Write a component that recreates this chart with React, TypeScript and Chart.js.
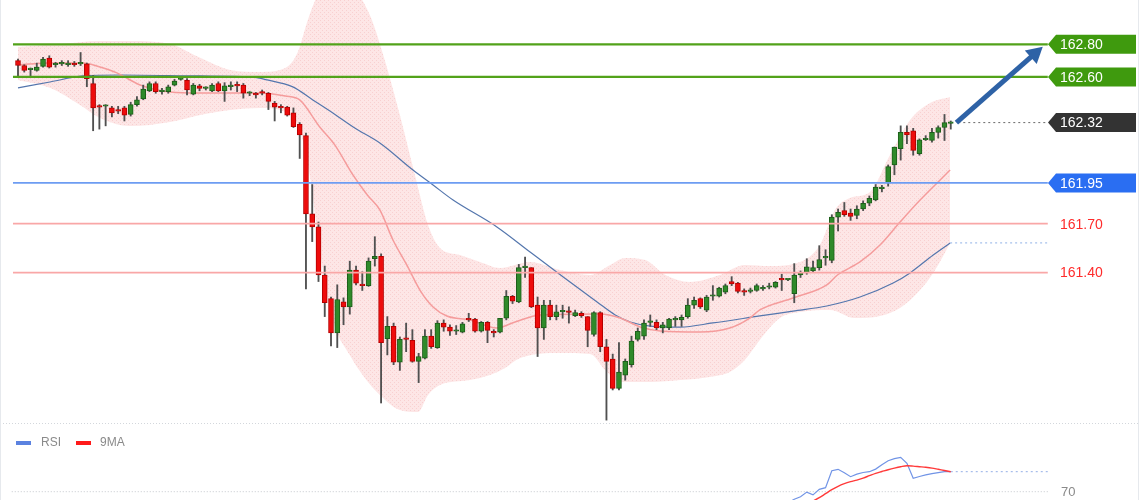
import React, { useEffect, useRef } from "react";
import { Chart, registerables } from "chart.js";

Chart.register(...registerables);

// ---------- Candles (index 0..149) ----------
const OPEN = [
  162.70, 162.67, 162.645, 162.64, 162.665, 162.715, 162.675, 162.68, 162.675, 162.68,
  162.68, 162.68, 162.56, 162.42, 162.42, 162.41, 162.395, 162.41, 162.37, 162.43,
  162.465, 162.515, 162.56, 162.51, 162.51, 162.55, 162.585, 162.58, 162.495, 162.545,
  162.53, 162.515, 162.56, 162.515, 162.54, 162.55, 162.55, 162.50, 162.495, 162.51,
  162.50, 162.44, 162.42, 162.415, 162.38, 162.31, 162.24, 161.76, 161.68, 161.385,
  161.24, 161.03, 161.22, 161.19, 161.415, 161.33, 161.32, 161.485, 161.50, 160.995,
  161.07, 160.85, 161.00, 160.985, 160.855, 160.875, 161.01, 160.94, 161.09, 161.065,
  161.04, 161.035, 161.115, 161.115, 161.04, 161.095, 161.04, 161.035, 161.12, 161.255,
  161.22, 161.43, 161.43, 161.20, 161.06, 161.20, 161.13, 161.16, 161.165, 161.135,
  161.15, 161.13, 161.02, 161.155, 160.945, 160.87, 160.69, 160.77, 160.835, 160.99,
  161.01, 161.095, 161.095, 161.06, 161.06, 161.11, 161.11, 161.13, 161.20, 161.24,
  161.17, 161.255, 161.255, 161.28, 161.345, 161.335, 161.285, 161.285, 161.29, 161.30,
  161.31, 161.31, 161.365, 161.355, 161.27, 161.385, 161.40, 161.41, 161.43, 161.49,
  161.475, 161.74, 161.78, 161.765, 161.75, 161.79, 161.825, 161.845, 161.915, 161.95,
  162.06, 162.16, 162.26, 162.27, 162.13, 162.215, 162.21, 162.26, 162.29, 162.315,
];
const HIGH = [
  162.71, 162.675, 162.655, 162.685, 162.72, 162.73, 162.69, 162.70, 162.70, 162.695,
  162.75, 162.685, 162.61, 162.43, 162.43, 162.42, 162.42, 162.42, 162.445, 162.48,
  162.55, 162.57, 162.57, 162.53, 162.55, 162.585, 162.60, 162.59, 162.56, 162.555,
  162.54, 162.56, 162.57, 162.565, 162.57, 162.57, 162.56, 162.51, 162.505, 162.52,
  162.505, 162.45, 162.43, 162.42, 162.41, 162.32, 162.255, 161.94, 161.71, 161.44,
  161.25, 161.325, 161.245, 161.47, 161.44, 161.405, 161.49, 161.62, 161.515, 161.13,
  161.09, 161.005, 161.09, 161.05, 160.905, 161.05, 161.05, 161.105, 161.11, 161.08,
  161.075, 161.095, 161.15, 161.12, 161.10, 161.10, 161.05, 161.12, 161.29, 161.26,
  161.45, 161.495, 161.43, 161.25, 161.23, 161.23, 161.20, 161.20, 161.19, 161.17,
  161.16, 161.13, 161.16, 161.16, 160.99, 160.90, 160.97, 160.87, 161.01, 161.06,
  161.11, 161.14, 161.11, 161.095, 161.12, 161.13, 161.14, 161.24, 161.25, 161.245,
  161.26, 161.32, 161.31, 161.33, 161.375, 161.34, 161.30, 161.305, 161.33, 161.32,
  161.335, 161.345, 161.39, 161.36, 161.455, 161.41, 161.485, 161.47, 161.565, 161.54,
  161.755, 161.79, 161.83, 161.79, 161.81, 161.84, 161.87, 161.94, 161.935, 162.06,
  162.17, 162.30, 162.30, 162.285, 162.22, 162.24, 162.285, 162.30, 162.37, 162.33,
];
const LOW = [
  162.60, 162.63, 162.60, 162.635, 162.66, 162.655, 162.66, 162.67, 162.665, 162.665,
  162.67, 162.54, 162.27, 162.28, 162.30, 162.355, 162.375, 162.33, 162.36, 162.42,
  162.46, 162.51, 162.50, 162.495, 162.50, 162.545, 162.58, 162.49, 162.49, 162.515,
  162.52, 162.51, 162.51, 162.45, 162.52, 162.51, 162.47, 162.485, 162.47, 162.49,
  162.40, 162.33, 162.38, 162.36, 162.29, 162.10, 161.30, 161.59, 161.345, 161.13,
  160.95, 160.94, 161.08, 161.145, 161.325, 161.29, 161.315, 161.44, 160.60, 160.895,
  160.835, 160.80, 160.915, 160.85, 160.725, 160.87, 160.935, 160.935, 161.04, 161.015,
  161.02, 161.03, 161.10, 161.035, 161.035, 160.97, 161.005, 161.03, 161.11, 161.21,
  161.215, 161.37, 161.185, 160.885, 160.99, 161.11, 161.11, 161.12, 161.09, 161.13,
  161.125, 160.945, 161.01, 160.915, 160.495, 160.68, 160.68, 160.74, 160.82, 160.98,
  160.99, 161.07, 161.05, 161.03, 161.05, 161.07, 161.07, 161.12, 161.18, 161.18,
  161.16, 161.23, 161.25, 161.27, 161.32, 161.275, 161.26, 161.275, 161.285, 161.29,
  161.30, 161.305, 161.29, 161.35, 161.215, 161.37, 161.39, 161.40, 161.415, 161.445,
  161.46, 161.655, 161.745, 161.72, 161.73, 161.78, 161.81, 161.84, 161.895, 161.93,
  162.00, 162.09, 162.19, 162.12, 162.12, 162.21, 162.20, 162.225, 162.21, 162.28,
];
const CLOSE = [
  162.67, 162.64, 162.65, 162.66, 162.71, 162.66, 162.68, 162.683, 162.685, 162.675,
  162.685, 162.59, 162.41, 162.415, 162.425, 162.38, 162.39, 162.365, 162.43, 162.46,
  162.525, 162.56, 162.51, 162.513, 162.54, 162.575, 162.59, 162.52, 162.55, 162.53,
  162.532, 162.55, 162.515, 162.545, 162.55, 162.545, 162.50, 162.503, 162.49, 162.50,
  162.45, 162.415, 162.41, 162.365, 162.295, 162.245, 161.76, 161.68, 161.385, 161.215,
  161.03, 161.235, 161.19, 161.415, 161.335, 161.32, 161.47, 161.50, 160.97, 161.07,
  160.85, 160.99, 160.99, 160.855, 160.885, 161.01, 160.945, 161.09, 161.065, 161.04,
  161.045, 161.085, 161.11, 161.04, 161.095, 161.045, 161.03, 161.12, 161.255, 161.225,
  161.43, 161.433, 161.19, 161.06, 161.20, 161.13, 161.16, 161.165, 161.155, 161.155,
  161.135, 161.045, 161.155, 160.945, 160.855, 160.69, 160.79, 160.855, 160.98, 161.04,
  161.09, 161.10, 161.06, 161.08, 161.115, 161.115, 161.125, 161.20, 161.23, 161.19,
  161.25, 161.258, 161.305, 161.32, 161.33, 161.285, 161.28, 161.29, 161.32, 161.305,
  161.315, 161.34, 161.355, 161.355, 161.385, 161.40, 161.435, 161.43, 161.48, 161.495,
  161.74, 161.77, 161.755, 161.745, 161.79, 161.825, 161.855, 161.925, 161.92, 162.05,
  162.17, 162.26, 162.245, 162.15, 162.215, 162.22, 162.26, 162.29, 162.32, 162.32,
];

// ---------- Bollinger band and moving averages, read as [candle index, price] ----------
const BB_UPPER: [number, number][] = [
  [0, 162.784], [6.7, 162.802], [13.1, 162.821], [17.9, 162.821], [24.3, 162.802], [29.1, 162.717],
  [33.9, 162.643], [38.7, 162.631], [42.7, 162.655], [44.7, 162.753], [46.3, 162.95], [47.9, 163.103],
  [50.6, 163.195], [53.8, 163.134], [56.2, 162.98], [58.1, 162.766], [61.0, 162.367], [63.4, 161.999],
  [65.5, 161.692], [67.4, 161.551], [70.6, 161.508], [73.8, 161.465], [77.0, 161.428], [81.8, 161.465],
  [86.6, 161.416], [91.4, 161.385], [94.6, 161.447], [97.0, 161.49], [100.2, 161.477], [103.4, 161.385],
  [107.3, 161.342], [112.1, 161.385], [116.1, 161.447], [120.1, 161.44], [124.9, 161.465], [128.1, 161.569],
  [130.5, 161.784], [132.9, 161.858], [136.1, 161.894], [139.3, 162.121], [142.5, 162.336], [145.7, 162.44],
  [148.9, 162.477],
];
const BB_LOWER: [number, number][] = [
  [0, 162.582], [5.1, 162.533], [9.9, 162.428], [13.1, 162.348], [17.9, 162.299], [24.3, 162.324],
  [29.1, 162.367], [33.9, 162.398], [38.7, 162.41], [42.7, 162.385], [45.0, 162.275], [46.6, 161.999],
  [48.2, 161.539], [50.3, 161.109], [53.0, 160.894], [55.4, 160.753], [57.8, 160.649], [61.0, 160.557],
  [63.9, 160.545], [65.5, 160.649], [67.4, 160.71], [72.2, 160.741], [75.4, 160.772], [77.8, 160.815],
  [80.2, 160.876], [86.6, 160.907], [91.4, 160.901], [93.8, 160.802], [96.2, 160.729], [101.0, 160.729],
  [105.8, 160.741], [110.5, 160.76], [113.7, 160.79], [116.1, 160.864], [118.5, 160.987], [121.7, 161.121],
  [124.9, 161.158], [129.7, 161.171], [133.7, 161.121], [137.7, 161.134], [140.9, 161.183], [144.1, 161.293],
  [146.5, 161.416], [148.9, 161.582],
];
const MA_FAST: [number, number][] = [
  [0, 162.674], [5.1, 162.686], [10.4, 162.686], [13.1, 162.661], [15.8, 162.625], [19.5, 162.551],
  [24.3, 162.508], [29.1, 162.502], [33.9, 162.502], [38.7, 162.502], [42.7, 162.483], [45.0, 162.459],
  [48.2, 162.293], [50.6, 162.183], [53.5, 161.999], [55.8, 161.876], [57.8, 161.784], [59.9, 161.6],
  [62.1, 161.447], [64.2, 161.293], [66.3, 161.189], [68.5, 161.134], [72.2, 161.109], [76.5, 161.06],
  [79.4, 161.097], [83.4, 161.14], [93.0, 161.146], [96.2, 161.121], [99.4, 161.066], [102.6, 161.042],
  [108.9, 161.036], [113.7, 161.06], [116.9, 161.121], [118.5, 161.171], [123.8, 161.244], [129.2, 161.324],
  [130.9, 161.385], [134.5, 161.465], [137.7, 161.569], [140.9, 161.71], [144.1, 161.845], [148.9, 162.029],
];
const MA_SLOW: [number, number][] = [
  [0, 162.533], [5.1, 162.569], [10.4, 162.606], [16.3, 162.612], [29.1, 162.606], [37.1, 162.6],
  [39.8, 162.582], [43.9, 162.539], [47.1, 162.459], [50.3, 162.379], [53.8, 162.287], [57.8, 162.195],
  [63.1, 162.029], [66.3, 161.937], [69.5, 161.845], [76.5, 161.68], [81.8, 161.526], [87.1, 161.373],
  [92.5, 161.22], [95.4, 161.14], [97.8, 161.097], [101.0, 161.072], [105.8, 161.066], [111.0, 161.091],
  [118.5, 161.134], [123.8, 161.164], [129.2, 161.195], [134.5, 161.25], [139.8, 161.336], [142.5, 161.398],
  [146.2, 161.508], [148.9, 161.582],
];

// ---------- RSI panel ----------
const RSI_START = 123;
const RSI_VALUES = [
  64.5, 66.2, 67.5, 69.8, 68.4, 71.2, 72.0, 80.5, 81.2, 79.5, 77.5, 78.8, 79.6, 80.0,
  81.3, 83.5, 85.5, 86.5, 87.2, 84.2, 76.7, 77.6, 78.4, 79.0, 79.5, 80.0, 80.0,
];
const RSI_MA_START = 126;
const RSI_MA_VALUES = [
  63.5, 65.3, 67.0, 69.0, 71.0, 72.7, 74.0, 75.0, 75.8, 76.8, 78.0, 79.2, 80.1, 81.0,
  81.8, 82.5, 83.0, 82.8, 82.5, 82.2, 81.8, 81.2, 80.6, 80.0,
];
const RSI_LEVEL = 70;

// ---------- Levels ----------
const GREEN_LEVELS = [162.8, 162.6];
const BLUE_LEVEL = 161.95;
const RED_LEVELS = [161.7, 161.4];
const LAST_PRICE = 162.32;
const TARGET_PRICE = 162.786;
const LAST_INDEX = 149;

const X_MIN = -2.875;
const X_MAX = 179.23;
const LEVEL_FROM = -0.8;
const LEVEL_TO = 164.5;
const ARROW_FROM = 149.9;
const ARROW_TO = 163.7;

const FONT = '"Liberation Sans", Arial, Helvetica, sans-serif';

const pts = (arr: [number, number][]) => arr.map(([x, y]) => ({ x, y }));
const hline = (y: number, x0 = LEVEL_FROM, x1 = LEVEL_TO) => [
  { x: x0, y },
  { x: x1, y },
];

function drawTag(ctx: CanvasRenderingContext2D, yPix: number, text: string, bg: string) {
  const x0 = 1048;
  const x1 = 1136;
  const h = 19;
  ctx.beginPath();
  ctx.moveTo(x0, yPix);
  ctx.lineTo(x0 + 8, yPix - h / 2);
  ctx.lineTo(x1, yPix - h / 2);
  ctx.lineTo(x1, yPix + h / 2);
  ctx.lineTo(x0 + 8, yPix + h / 2);
  ctx.closePath();
  ctx.fillStyle = bg;
  ctx.fill();
  ctx.fillStyle = "#ffffff";
  ctx.font = `14px ${FONT}`;
  ctx.textBaseline = "middle";
  ctx.textAlign = "left";
  ctx.fillText(text, 1060, yPix + 1);
}

const overlayPlugin = {
  id: "overlay",
  afterDatasetsDraw(chart: any) {
    const { ctx } = chart;
    const xs = chart.scales.x;
    const ys = chart.scales.y;
    const rs = chart.scales.rsi;
    ctx.save();

    // panel separator and borders
    ctx.strokeStyle = "#d3d7dc";
    ctx.lineWidth = 1;
    ctx.setLineDash([1, 2]);
    ctx.beginPath();
    ctx.moveTo(0, 423.5);
    ctx.lineTo(1140, 423.5);
    ctx.stroke();
    ctx.setLineDash([]);
    ctx.strokeStyle = "#e6e9ed";
    ctx.beginPath();
    ctx.moveTo(0.5, 0);
    ctx.lineTo(0.5, 500);
    ctx.moveTo(1138.5, 0);
    ctx.lineTo(1138.5, 500);
    ctx.stroke();

    // arrow
    const ax0 = xs.getPixelForValue(ARROW_FROM);
    const ay0 = ys.getPixelForValue(LAST_PRICE);
    const ax1 = xs.getPixelForValue(ARROW_TO);
    const ay1 = ys.getPixelForValue(TARGET_PRICE);
    const ang = Math.atan2(ay1 - ay0, ax1 - ax0);
    const headLen = 16;
    const headW = 9;
    const bx = ax1 - Math.cos(ang) * headLen;
    const by = ay1 - Math.sin(ang) * headLen;
    ctx.strokeStyle = "#2e62a6";
    ctx.fillStyle = "#2e62a6";
    ctx.lineWidth = 5;
    ctx.lineCap = "butt";
    ctx.beginPath();
    ctx.moveTo(ax0, ay0);
    ctx.lineTo(bx + Math.cos(ang) * 2, by + Math.sin(ang) * 2);
    ctx.stroke();
    ctx.beginPath();
    ctx.moveTo(ax1, ay1);
    ctx.lineTo(bx + Math.sin(ang) * headW, by - Math.cos(ang) * headW);
    ctx.lineTo(bx - Math.sin(ang) * headW, by + Math.cos(ang) * headW);
    ctx.closePath();
    ctx.fill();

    // price tags
    GREEN_LEVELS.forEach((v) => drawTag(ctx, ys.getPixelForValue(v), v.toFixed(2), "#3f9a0e"));
    drawTag(ctx, ys.getPixelForValue(LAST_PRICE), LAST_PRICE.toFixed(2), "#333333");
    drawTag(ctx, ys.getPixelForValue(BLUE_LEVEL), BLUE_LEVEL.toFixed(2), "#2a6ef2");
    ctx.fillStyle = "#ff2b2b";
    ctx.font = `14px ${FONT}`;
    ctx.textBaseline = "middle";
    RED_LEVELS.forEach((v) => ctx.fillText(v.toFixed(2), 1060, ys.getPixelForValue(v) + 1));

    // RSI level label
    ctx.fillStyle = "#8a8a8a";
    ctx.font = `13px ${FONT}`;
    ctx.fillText(String(RSI_LEVEL), 1061, rs.getPixelForValue(RSI_LEVEL) + 1);

    // RSI legend
    ctx.font = `12px ${FONT}`;
    ctx.fillStyle = "#5b82e0";
    ctx.fillRect(16, 441, 15, 4);
    ctx.fillStyle = "#8a8a8a";
    ctx.fillText("RSI", 41, 443);
    ctx.fillStyle = "#ff1a1a";
    ctx.fillRect(76, 441, 15, 4);
    ctx.fillStyle = "#8a8a8a";
    ctx.fillText("9MA", 100, 443);

    ctx.restore();
  },
};

export default function App() {
  const ref = useRef<HTMLCanvasElement>(null);

  useEffect(() => {
    const canvas = ref.current!;
    const pc = document.createElement("canvas");
    pc.width = 4;
    pc.height = 4;
    const g = pc.getContext("2d")!;
    g.fillStyle = "rgb(253,230,230)";
    g.fillRect(0, 0, 4, 4);
    g.fillStyle = "rgb(248,208,208)";
    g.fillRect(0, 0, 1, 1);
    g.fillRect(2, 2, 1, 1);
    const pattern = canvas.getContext("2d")!.createPattern(pc, "repeat");

    const idx = OPEN.map((_, i) => i);
    const up = idx.map((i) => CLOSE[i] >= OPEN[i]);

    const lineBase = {
      type: "line" as const,
      pointRadius: 0,
      pointHoverRadius: 0,
      fill: false,
    };

    const chart = new Chart(canvas, {
      type: "bar",
      data: {
        datasets: [
          {
            ...lineBase,
            label: "bbUpper",
            data: pts(BB_UPPER),
            borderWidth: 0,
            borderColor: "rgba(0,0,0,0)",
            cubicInterpolationMode: "monotone",
            order: 30,
          } as any,
          {
            ...lineBase,
            label: "bbLower",
            data: pts(BB_LOWER),
            borderWidth: 0,
            borderColor: "rgba(0,0,0,0)",
            backgroundColor: pattern || "rgb(253,230,230)",
            fill: "-1",
            cubicInterpolationMode: "monotone",
            order: 29,
          } as any,
          {
            ...lineBase,
            label: "maSlow",
            data: pts(MA_SLOW),
            borderColor: "#5476ad",
            borderWidth: 1.2,
            cubicInterpolationMode: "monotone",
            order: 25,
          } as any,
          {
            ...lineBase,
            label: "maFast",
            data: pts(MA_FAST),
            borderColor: "#f59c9c",
            borderWidth: 1.5,
            cubicInterpolationMode: "monotone",
            order: 24,
          } as any,
          {
            type: "bar",
            label: "wicks",
            data: idx.map((i) => ({ x: i, y: [LOW[i], HIGH[i]] })),
            backgroundColor: "#505050",
            barThickness: 1.2,
            grouped: false,
            order: 20,
          } as any,
          {
            type: "bar",
            label: "bodies",
            data: idx.map((i) => ({ x: i, y: [OPEN[i], CLOSE[i]] })),
            backgroundColor: up.map((u) => (u ? "#2f8a2a" : "#ee0c0c")),
            borderColor: up.map((u) => (u ? "#1d5e1a" : "#b50000")),
            borderWidth: 1,
            borderSkipped: false,
            barThickness: 5,
            minBarLength: 1.5,
            grouped: false,
            order: 19,
          } as any,
          ...GREEN_LEVELS.map(
            (v) =>
              ({
                ...lineBase,
                label: `g${v}`,
                data: hline(v),
                borderColor: "#52a21a",
                borderWidth: 2.2,
                order: 5,
              } as any)
          ),
          {
            ...lineBase,
            label: "blue level",
            data: hline(BLUE_LEVEL),
            borderColor: "#6d9cf2",
            borderWidth: 1.6,
            order: 5,
          } as any,
          ...RED_LEVELS.map(
            (v) =>
              ({
                ...lineBase,
                label: `r${v}`,
                data: hline(v),
                borderColor: "#f9a7a7",
                borderWidth: 1.6,
                order: 5,
              } as any)
          ),
          {
            ...lineBase,
            label: "last",
            data: hline(LAST_PRICE, 150.2, LEVEL_TO),
            borderColor: "#6b6b6b",
            borderWidth: 1,
            borderDash: [2, 3],
            order: 5,
          } as any,
          {
            ...lineBase,
            label: "maExt",
            data: hline(MA_SLOW[MA_SLOW.length - 1][1], MA_SLOW[MA_SLOW.length - 1][0], LEVEL_TO),
            borderColor: "#8fb0e6",
            borderWidth: 1,
            borderDash: [2, 3],
            order: 5,
          } as any,
          {
            ...lineBase,
            label: "rsiLevel",
            yAxisID: "rsi",
            data: hline(RSI_LEVEL, -1, LEVEL_TO),
            borderColor: "#c4c8cd",
            borderWidth: 1,
            borderDash: [1, 2],
            order: 6,
          } as any,
          {
            ...lineBase,
            label: "RSI",
            yAxisID: "rsi",
            data: RSI_VALUES.map((v, k) => ({ x: RSI_START + k, y: v })),
            borderColor: "#7194e6",
            borderWidth: 1.2,
            order: 3,
          } as any,
          {
            ...lineBase,
            label: "9MA",
            yAxisID: "rsi",
            data: RSI_MA_VALUES.map((v, k) => ({ x: RSI_MA_START + k, y: v })),
            borderColor: "#ff3a3a",
            borderWidth: 1.4,
            cubicInterpolationMode: "monotone",
            order: 2,
          } as any,
          {
            ...lineBase,
            label: "rsiExt",
            yAxisID: "rsi",
            data: hline(RSI_VALUES[RSI_VALUES.length - 1], LAST_INDEX, LEVEL_TO),
            borderColor: "#94aee6",
            borderWidth: 1,
            borderDash: [2, 3],
            order: 4,
          } as any,
        ],
      },
      options: {
        responsive: false,
        maintainAspectRatio: false,
        animation: false,
        devicePixelRatio: 1,
        layout: { padding: 0 },
        plugins: {
          legend: { display: false },
          tooltip: { enabled: false },
        },
        events: [],
        scales: {
          x: { type: "linear", axis: "x", min: X_MIN, max: X_MAX, display: false, offset: false },
          y: { type: "linear", axis: "y", min: 160.005, max: 163.072, display: false },
          rsi: { type: "linear", axis: "y", position: "right", min: 65.85, max: 315.85, display: false },
        },
      } as any,
      plugins: [overlayPlugin],
    });
    return () => chart.destroy();
  }, []);

  return (
    <div style={{ position: "absolute", left: 0, top: 0, width: 1140, height: 500, background: "#ffffff" }}>
      <canvas ref={ref} width={1140} height={500} style={{ display: "block", width: 1140, height: 500 }} />
    </div>
  );
}
